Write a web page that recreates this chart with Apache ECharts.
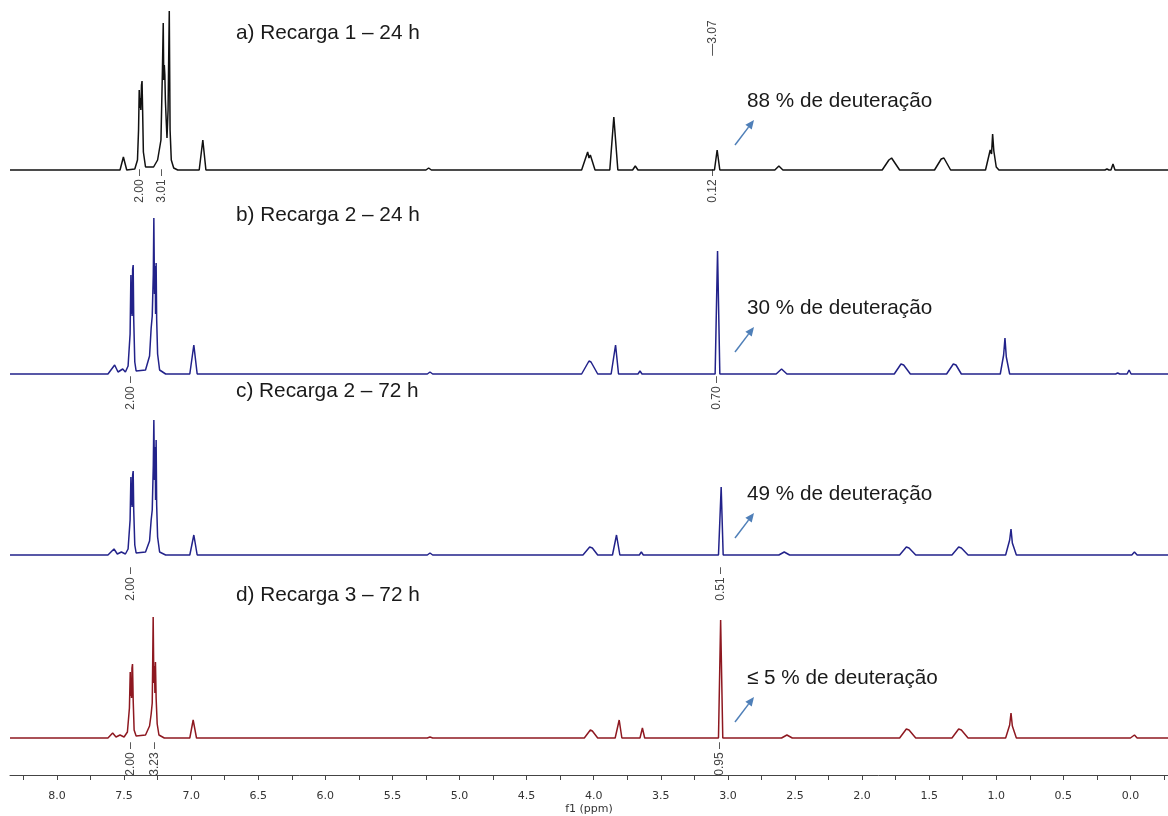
<!DOCTYPE html>
<html>
<head>
<meta charset="utf-8">
<title>RMN - deuteração</title>
<script src="https://cdn.jsdelivr.net/npm/echarts@6/dist/echarts.min.js"></script>
<style>
  html, body { margin: 0; padding: 0; background: #fff; }
  #main { width: 1168px; height: 816px; }
</style>
</head>
<body>
<div id="main"></div>
<script>
// eixo f1 (ppm)
var tickValues = [8.25, 8.0, 7.75, 7.5, 7.25, 7.0, 6.75, 6.5, 6.25, 6.0, 5.75, 5.5, 5.25, 5.0, 4.75, 4.5, 4.25,
                  4.0, 3.75, 3.5, 3.25, 3.0, 2.75, 2.5, 2.25, 2.0, 1.75, 1.5, 1.25, 1.0, 0.75, 0.5, 0.25, 0.0, -0.25];
var labelValues = [8.0, 7.5, 7.0, 6.5, 6.0, 5.5, 5.0, 4.5, 4.0, 3.5, 3.0, 2.5, 2.0, 1.5, 1.0, 0.5, 0.0];

var titles = ['a) Recarga 1 \u2013 24 h', 'b) Recarga 2 \u2013 24 h', 'c) Recarga 2 \u2013 72 h', 'd) Recarga 3 \u2013 72 h'];
var deuteracao = ['88 % de deutera\u00e7\u00e3o', '30 % de deutera\u00e7\u00e3o', '49 % de deutera\u00e7\u00e3o', '\u2264 5 % de deutera\u00e7\u00e3o'];

// espectros [ppm, intensidade]
var specA = [[8.35,0],[7.53,0],[7.505,13],[7.48,0],
  [7.42,1],[7.40,10],[7.392,40],[7.387,80],[7.383,62],[7.379,72],[7.375,60],[7.370,85],[7.366,89],[7.362,62],[7.356,18],[7.34,3],
  [7.28,3],[7.25,10],[7.225,30],[7.214,100],[7.208,147],[7.204,90],[7.200,105],[7.196,95],[7.192,70],[7.186,50],[7.180,32],
  [7.172,60],[7.163,159],[7.157,40],[7.148,10],[7.13,2],[7.10,0],
  [6.94,0],[6.913,30],[6.89,0],
  [5.25,0],[5.23,2],[5.21,0],
  [4.09,0],[4.055,14],[4.045,18],[4.035,12],[4.025,15],[3.99,0],
  [3.88,0],[3.85,53],[3.82,0],
  [3.71,0],[3.69,4],[3.67,0],
  [3.10,0],[3.08,20],[3.06,0],
  [2.65,0],[2.62,4],[2.59,0],
  [1.85,0],[1.80,10],[1.78,12],[1.72,0],
  [1.46,0],[1.41,11],[1.39,12],[1.34,0],
  [1.08,0],[1.045,20],[1.035,16],[1.027,36],[1.018,19],[1.00,3],[0.98,0],
  [0.19,0],[0.175,1],[0.16,0],[0.145,0],[0.13,6],[0.115,0],
  [-0.28,0]];

var specB = [[8.35,0],[7.62,0],[7.57,9],[7.545,2],[7.51,5],[7.49,2],
  [7.47,8],[7.455,40],[7.449,99],[7.446,60],[7.443,90],[7.440,58],[7.436,105],[7.432,109],[7.428,55],[7.42,12],[7.41,3],
  [7.34,4],[7.31,18],[7.298,46],[7.29,58],[7.282,100],[7.278,156],[7.273,80],[7.268,108],[7.265,60],[7.261,111],[7.257,55],[7.25,20],[7.235,4],[7.19,0],
  [7.01,0],[6.98,29],[6.955,0],
  [5.24,0],[5.22,2],[5.20,0],
  [4.09,0],[4.035,13],[4.02,12],[3.97,0],
  [3.87,0],[3.837,29],[3.815,0],
  [3.67,0],[3.655,3],[3.64,0],
  [3.095,0],[3.077,123],[3.06,0],
  [2.64,0],[2.60,5],[2.56,0],
  [1.76,0],[1.71,10],[1.69,9],[1.64,0],
  [1.37,0],[1.32,10],[1.30,9],[1.26,0],
  [0.97,0],[0.945,19],[0.935,36],[0.925,17],[0.915,19],[0.90,0],
  [0.11,0],[0.095,1],[0.08,0],[0.025,0],[0.01,4],[-0.005,0],
  [-0.28,0]];

var specC = [[8.35,0],[7.62,0],[7.575,6],[7.55,1],[7.52,3],[7.49,1],
  [7.47,6],[7.455,35],[7.449,78],[7.446,50],[7.443,72],[7.440,48],[7.436,80],[7.432,84],[7.428,45],[7.42,10],[7.41,2],
  [7.34,3],[7.31,14],[7.298,35],[7.29,45],[7.282,90],[7.278,135],[7.273,75],[7.268,108],[7.265,55],[7.261,115],[7.257,50],[7.25,18],[7.235,3],[7.19,0],
  [7.01,0],[6.98,20],[6.955,0],
  [5.24,0],[5.22,2],[5.20,0],
  [4.08,0],[4.03,8],[4.01,7],[3.97,0],
  [3.86,0],[3.83,20],[3.805,0],
  [3.66,0],[3.645,3],[3.63,0],
  [3.07,0],[3.05,68],[3.035,0],
  [2.62,0],[2.58,3],[2.54,0],
  [1.72,0],[1.67,8],[1.65,7],[1.60,0],
  [1.33,0],[1.28,8],[1.26,7],[1.21,0],
  [0.93,0],[0.90,15],[0.89,26],[0.88,12],[0.87,14],[0.85,0],
  [-0.01,0],[-0.03,3],[-0.05,0],
  [-0.28,0]];

var specD = [[8.35,0],[7.62,0],[7.585,5],[7.56,1],[7.53,3],[7.50,1],
  [7.475,6],[7.46,30],[7.454,66],[7.451,42],[7.447,60],[7.444,40],[7.441,70],[7.437,74],[7.432,38],[7.425,8],[7.41,2],
  [7.34,3],[7.31,12],[7.298,24],[7.29,35],[7.287,70],[7.283,121],[7.278,55],[7.273,72],[7.270,45],[7.266,76],[7.261,40],[7.253,14],[7.24,3],[7.20,0],
  [7.01,0],[6.985,18],[6.96,0],
  [5.24,0],[5.22,1],[5.20,0],
  [4.07,0],[4.025,8],[4.01,7],[3.97,0],
  [3.84,0],[3.81,18],[3.79,0],
  [3.655,0],[3.637,10],[3.62,0],
  [3.07,0],[3.054,118],[3.038,0],
  [2.60,0],[2.56,3],[2.52,0],
  [1.72,0],[1.67,9],[1.65,8],[1.60,0],
  [1.33,0],[1.28,9],[1.26,8],[1.21,0],
  [0.93,0],[0.90,13],[0.89,25],[0.88,12],[0.87,13],[0.85,0],
  [0.13,0],[0.12,1],[0.11,0],[0.0,0],[-0.03,3],[-0.05,0],
  [-0.28,0]];

// integrais (ppm, valor)
var intA = [[7.38, '2.00'], [7.22, '3.01'], [3.11, '0.12']];
var intB = [[7.45, '2.00'], [3.08, '0.70']];
var intC = [[7.45, '2.00'], [3.05, '0.51']];
var intD = [[7.45, '2.00'], [7.27, '3.23'], [3.06, '0.95']];
var peakLabelA = [3.11, '3.07'];

var spectra = [specA, specB, specC, specD];
var integrals = [intA, intB, intC, intD];
var colors = ['#111111', '#22228a', '#22228a', '#8e1820'];

var chart = echarts.init(document.getElementById('main'));

var gridTops = [0, 204, 385, 568];
var grids = [], xAxes = [], yAxes = [], series = [];
for (var i = 0; i < 4; i++) {
    grids.push({ left: 10, right: 0, top: gridTops[i], height: 170, outerBoundsMode: 'none' });
    var last = (i === 3);
    xAxes.push({
        type: 'value', gridIndex: i, inverse: true, min: -0.28, max: 8.35,
        show: last,
        offset: last ? 37 : 0,
        name: last ? 'f1 (ppm)' : '',
        nameLocation: 'middle', nameGap: 29,
        nameTextStyle: { fontFamily: 'DejaVu Sans', fontSize: 11, color: '#333' },
        axisLine: { onZero: false, lineStyle: { color: '#444', width: 1 } },
        axisTick: { show: true, length: 5, customValues: tickValues, lineStyle: { color: '#444' } },
        axisLabel: {
            customValues: labelValues, margin: 16,
            fontFamily: 'DejaVu Sans', fontSize: 11, color: '#333',
            formatter: function (v) { return v.toFixed(1); }
        },
        splitLine: { show: false }
    });
    yAxes.push({ type: 'value', gridIndex: i, min: 0, max: 170, show: false });
    series.push({
        type: 'line', xAxisIndex: i, yAxisIndex: i,
        data: spectra[i], showSymbol: false, symbol: 'none',
        lineStyle: { color: colors[i], width: 1.5 },
        clip: false
    });
}

chart.setOption({
    animation: false,
    grid: grids,
    xAxis: xAxes,
    yAxis: yAxes,
    series: series
});

// anotações
var baselines = [170, 374, 555, 738];
var intOffset = [16, 19, 29, 21];
var titleY = [33, 215, 391, 595];
var deutY = [101, 308, 494, 678];
var graphics = [];

function vtext(x, y, s) {
    graphics.push({
        type: 'text', x: x, y: y, rotation: Math.PI / 2,
        style: { text: s, fill: '#444', font: '12px "Liberation Sans"', align: 'center', verticalAlign: 'middle' }
    });
}

for (var k = 0; k < 4; k++) {
    graphics.push({
        type: 'text', x: 236, y: titleY[k],
        style: { text: titles[k], fill: '#1a1a1a', font: '20.8px "Liberation Sans"', verticalAlign: 'middle' }
    });
    graphics.push({
        type: 'text', x: 747, y: deutY[k],
        style: { text: deuteracao[k], fill: '#1a1a1a', font: '20.7px "Liberation Sans"', verticalAlign: 'middle' }
    });
    // seta
    var tip = [754, deutY[k] + 19], tail = [735, deutY[k] + 44];
    var dx = tip[0] - tail[0], dy = tip[1] - tail[1], len = Math.sqrt(dx * dx + dy * dy);
    var ux = dx / len, uy = dy / len, px = -uy, py = ux;
    var bx = tip[0] - ux * 9, by = tip[1] - uy * 9;
    graphics.push({
        type: 'line', shape: { x1: tail[0], y1: tail[1], x2: bx, y2: by },
        style: { stroke: '#4f7fb8', lineWidth: 1.5 }
    });
    graphics.push({
        type: 'polygon',
        shape: { points: [tip, [bx + px * 4, by + py * 4], [bx - px * 4, by - py * 4]] },
        style: { fill: '#4f7fb8' }
    });
    integrals[k].forEach(function (it) {
        var x = chart.convertToPixel({ xAxisIndex: k }, it[0]);
        vtext(x, baselines[k] + intOffset[k], it[1] + ' \u2013');
    });
}
vtext(chart.convertToPixel({ xAxisIndex: 0 }, peakLabelA[0]), 38, '\u2014' + peakLabelA[1]);

chart.setOption({ graphic: graphics });
</script>
</body>
</html>
